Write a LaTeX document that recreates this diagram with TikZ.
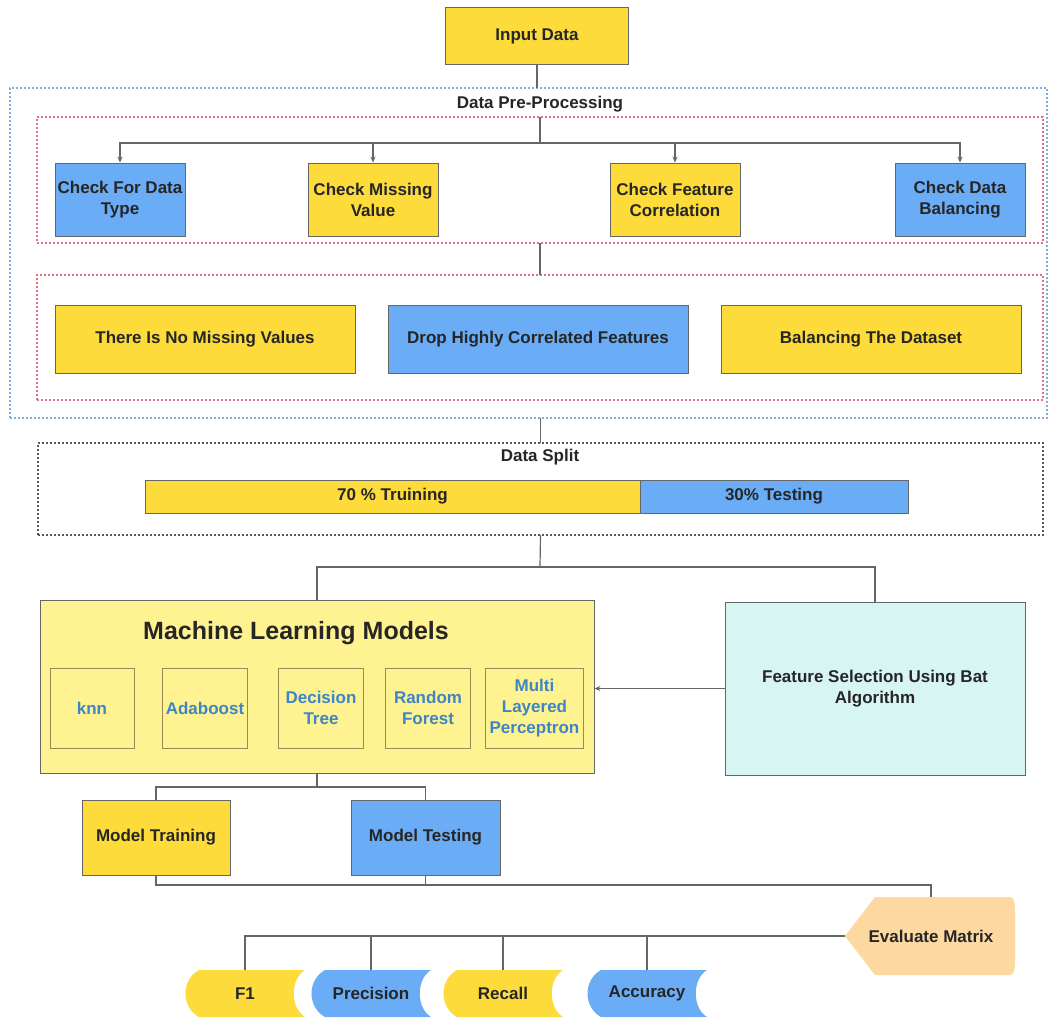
\documentclass[tikz,border=0pt]{standalone}
\usepackage{fontspec}
\setmainfont{Liberation Sans}
\usetikzlibrary{arrows.meta, calc}
\definecolor{ylw}{RGB}{253,219,58}
\definecolor{blu}{RGB}{106,172,245}
\definecolor{lyl}{RGB}{255,243,145}
\definecolor{cyn}{RGB}{214,245,243}
\definecolor{pch}{RGB}{253,216,160}
\definecolor{tblu}{RGB}{61,133,198}
\definecolor{mdln}{RGB}{150,140,90}
\definecolor{gblu}{RGB}{130,172,225}
\definecolor{gred}{RGB}{228,110,130}
\tikzset{
    blk/.style={draw=black!60, line width=0.8pt, align=center, inner sep=2pt, text=black!85},
    yblk/.style={blk, fill=ylw},
    bblk/.style={blk, fill=blu},
    mdl/.style={draw=mdln, line width=0.8pt, fill=lyl, text=tblu, align=center, inner sep=1pt, minimum height=80},
    grp/.style={dash pattern=on 2pt off 2pt, line width=1.3pt, inner sep=0pt, outer sep=0pt},
    stor/.style={fill=white, minimum width=120, minimum height=47, inner sep=0pt, outer sep=0pt, text=black!85,
        path picture={\fill[#1] ([xshift=14pt]path picture bounding box.north west)
            -- (path picture bounding box.north east)
            .. controls ([xshift=-15pt,yshift=-9pt]path picture bounding box.north east)
            and ([xshift=-15pt,yshift=9pt]path picture bounding box.south east)
            .. (path picture bounding box.south east)
            -- ([xshift=14pt]path picture bounding box.south west)
            .. controls ([xshift=-4pt,yshift=10pt]path picture bounding box.south west)
            and ([xshift=-4pt,yshift=-10pt]path picture bounding box.north west)
            .. cycle;}},
    evl/.style={fill=white, minimum width=172, minimum height=78, inner sep=0pt, outer sep=0pt, text=black!85,
        path picture={\fill[pch] (path picture bounding box.west)
            -- ([xshift=30pt]path picture bounding box.north west)
            -- ([xshift=-8pt]path picture bounding box.north east)
            .. controls ([xshift=-1pt]path picture bounding box.north east)
            and ([xshift=-2pt,yshift=-12pt]path picture bounding box.north east)
            .. ([xshift=-2pt,yshift=-18pt]path picture bounding box.north east)
            -- ([xshift=-2pt,yshift=18pt]path picture bounding box.south east)
            .. controls ([xshift=-2pt,yshift=12pt]path picture bounding box.south east)
            and ([xshift=-1pt]path picture bounding box.south east)
            .. ([xshift=-8pt]path picture bounding box.south east)
            -- ([xshift=30pt]path picture bounding box.south west)
            -- cycle;}},
    ln/.style={draw=black!60, line width=1.2pt},
    fc/.style={x=1pt, y=-1pt, >={Stealth[length=6pt,width=5pt]}, font=\fontsize{17}{21}\selectfont\bfseries}
}
\begin{document}
\begin{tikzpicture}[fc]
        \useasboundingbox (0,0) rectangle (1051,1019);
        \node[grp, draw=gblu, minimum width=1037, minimum height=330] (pp) at (528.5,253) {};
        \node[grp, draw=gred, minimum width=1006, minimum height=126] (rd1) at (540,180) {};
        \node[grp, draw=gred, minimum width=1006, minimum height=125] (rd2) at (540,337.5) {};
        \node[grp, draw=black!65, minimum width=1005, minimum height=92] (spl) at (540.5,489) {};

        \node[yblk, minimum width=183, minimum height=57] (in) at (537,36) {Input Data};
        \node[text=black!85] (ppl) at (540,104) {Data Pre-Processing};
        \node[bblk, minimum width=130, minimum height=73] (ct) at (120,199.5) {Check For Data\\Type};
        \node[yblk, minimum width=130, minimum height=73] (cm) at (373,199.5) {Check Missing\\Value};
        \node[yblk, minimum width=130, minimum height=73] (cf) at (675,199.5) {Check Feature\\Correlation};
        \node[bblk, minimum width=130, minimum height=73] (cb) at (960,199.5) {Check Data\\Balancing};
        \node[yblk, minimum width=300, minimum height=68] (nm) at (205,339) {There Is No Missing Values};
        \node[bblk, minimum width=300, minimum height=68] (dh) at (538,339) {Drop Highly Correlated Features};
        \node[yblk, minimum width=300, minimum height=68] (bt) at (871,339) {Balancing The Dataset};
        \node[text=black!85] (spt) at (540,457) {Data Split};
        \node[yblk, minimum width=495, minimum height=33] (tr) at (392.5,496.5) {70 \% Truining};
        \node[bblk, minimum width=268, minimum height=33] (ts) at (774,496.5) {30\% Testing};

        \node[blk, fill=lyl, minimum width=554, minimum height=173] (ml) at (317,686.5) {};
        \node[text=black!85, font=\fontsize{25}{30}\selectfont\bfseries] (mlt) at (296,633) {Machine Learning Models};
        \node[mdl, minimum width=84] (m1) at (92,708) {knn};
        \node[mdl, minimum width=85] (m2) at (205,708) {Adaboost};
        \node[mdl, minimum width=85] (m3) at (321,708) {Decision\\Tree};
        \node[mdl, minimum width=85] (m4) at (428,708) {Random\\Forest};
        \node[mdl, minimum width=98] (m5) at (534.5,708) {Multi\\Layered\\Perceptron};
        \node[blk, fill=cyn, minimum width=300, minimum height=173] (fs) at (875,688.5) {Feature Selection Using Bat\\Algorithm};

        \node[yblk, minimum width=148, minimum height=75] (mtr) at (156,837.5) {Model Training};
        \node[bblk, minimum width=149, minimum height=75] (mte) at (425.5,837.5) {Model Testing};
        \node[evl] (ev) at (931,936) {Evaluate Matrix};
        \node[stor=ylw] (f1) at (245,993.5) {F1};
        \node[stor=blu] (pr) at (371,993.5) {Precision};
        \node[stor=ylw] (rc) at (503,993.5) {Recall};
        \node[stor=blu] (ac) at (647,993.5) {Accuracy};

        \coordinate (b1) at (540,143);
        \coordinate (b2) at (540,567);
        \coordinate (b3) at (317,787);
        \coordinate (b4) at (931,885);

        \draw[ln] (in.south) -- (in.south |- pp.north);
        \draw[ln] (rd1.north) -- (b1);
        \foreach \n in {ct,cm,cf,cb}
            \draw[ln,->] (b1) -| (\n.north);
        \draw[ln] (rd1.south) -- (rd2.north);
        \draw[ln] (spl.north) -- (spl.north |- pp.south);
        \draw[ln] (spl.south) -- (b2);
        \draw[ln] (ml.north) |- (b2) -| (fs.north);
        \draw[ln,->] (fs.west) -- (fs.west -| ml.east);
        \draw[ln] (ml.south) -- (b3);
        \draw[ln] (mtr.north) |- (b3) -| (mte.north);
        \draw[ln] (mtr.south) |- (b4) -- (ev.north);
        \draw[ln] (mte.south) -- (mte.south |- b4);
        \foreach \n in {f1,pr,rc,ac}
            \draw[ln] (ev.west) -| (\n.north);
    \end{tikzpicture}
\end{document}
